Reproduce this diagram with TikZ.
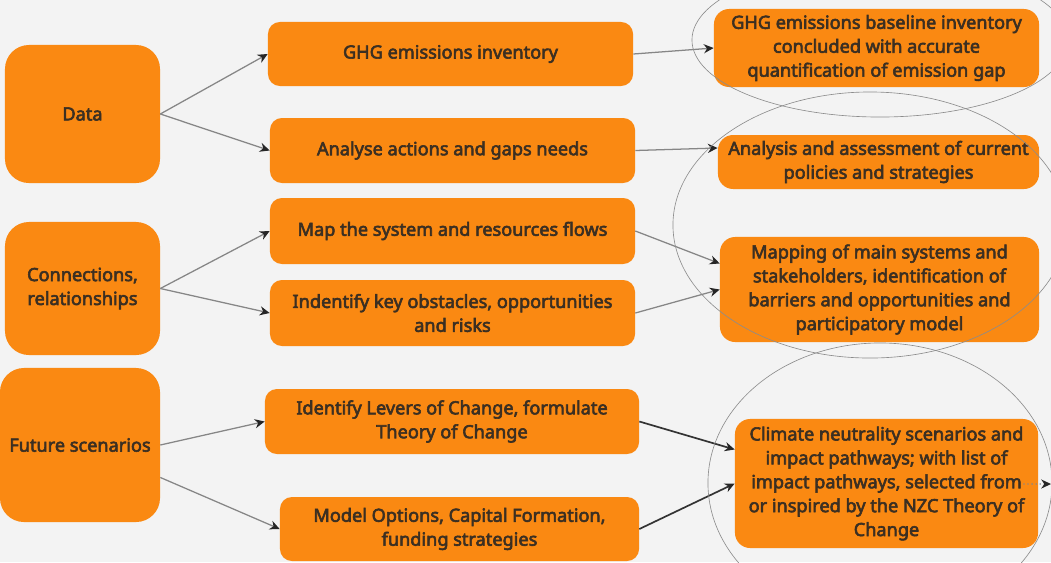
\documentclass[tikz,border=0pt]{standalone}
\usepackage{fontspec}
\setmainfont{Noto Sans}
\newfontfamily\boxfont{Noto Sans}[FakeBold=3.2]
\usepackage{tikz}
\usetikzlibrary{arrows.meta,calc}

\definecolor{bgcol}{HTML}{F3F3F3}
\definecolor{boxorange}{HTML}{FA8912}
\definecolor{txtcol}{HTML}{3B2F22}
\definecolor{linecol}{HTML}{868686}
\definecolor{ringcol}{HTML}{8C8C8C}

\begin{document}
\begin{tikzpicture}[x=0.025cm, y=-0.025cm,
  box/.style={fill=boxorange, text=txtcol, align=center, inner sep=0pt,
    font=\boxfont\fontsize{12.9}{17}\selectfont},
  bigbox/.style={box, rounded corners=0.6cm},
  midbox/.style={box, rounded corners=0.3cm},
  resbox/.style={box, rounded corners=0.38cm},
  flow/.style={draw=linecol, line width=0.9pt,
    -{Stealth[length=7pt,width=6.5pt,color=black!85]}},
  flowdark/.style={flow, draw=black!80, line width=1.2pt},
  ring/.style={draw=ringcol, line width=0.45pt}]

\path [fill=bgcol] (0,0) rectangle (1051,562);
\useasboundingbox (0,0) rectangle (1051,562);

% left column
\node [bigbox, minimum width=3.875cm, minimum height=3.45cm] (data) at (82.5,114) {Data};
\node [bigbox, minimum width=3.875cm, minimum height=3.325cm] (conn) at (82.5,288.5) {Connections,\\relationships};
\node [bigbox, minimum width=4cm, minimum height=3.85cm] (fut) at (80,445) {Future scenarios};

% middle column
\node [midbox, minimum width=9.125cm, minimum height=1.6cm] (ghg) at (450.5,54) {GHG emissions inventory};
\node [midbox, minimum width=9.125cm, minimum height=1.625cm] (ana) at (452.5,150.5) {Analyse actions and gaps needs};
\node [midbox, minimum width=9.125cm, minimum height=1.65cm] (map) at (452.5,231) {Map the system and resources flows};
\node [midbox, minimum width=9.125cm, minimum height=1.65cm] (ind) at (452.5,313) {Indentify key obstacles, opportunities\\and risks};
\node [midbox, minimum width=9.35cm, minimum height=1.625cm] (lev) at (452,421.5) {Identify Levers of Change, formulate\\Theory of Change};
\node [midbox, minimum width=8.975cm, minimum height=1.6cm] (mod) at (459.5,529) {Model Options, Capital Formation,\\funding strategies};

% right column
\node [resbox, minimum width=8.125cm, minimum height=1.95cm] (base) at (876.5,48) {GHG emissions baseline inventory\\concluded with accurate\\quantification of emission gap};
\node [resbox, minimum width=8.025cm, minimum height=1.35cm] (asm) at (878.5,162) {Analysis and assessment of current\\policies and strategies};
\node [resbox, minimum width=7.975cm, minimum height=2.625cm] (mpg) at (879.5,289.5) {Mapping of main systems and\\stakeholders, identification of\\barriers and opportunities and\\participatory model};
\node [resbox, minimum width=7.575cm, minimum height=3.225cm] (clim) at (886.5,483.5) {Climate neutrality scenarios and\\impact pathways; with list of\\impact pathways, selected from\\or inspired by the NZC Theory of\\Change};

% connectors
\draw [flow] (data.east) -- (ghg.west);
\draw [flow] (data.east) -- (ana.west);
\draw [flow] (conn.east) -- (map.west);
\draw [flow] (conn.east) -- (ind.west);
\draw [flow] (fut.east) -- (lev.west);
\draw [flow] (fut.-22) -- (mod.west);

\draw [flow] (ghg.east) -- (base.west);
\draw [flow] (ana.east) -- ($(asm.west)+(0,-14)$);
\draw [flow] (map.east) -- ($(mpg.west)+(0,-26)$);
\draw [flow] (ind.east) -- (mpg.west);
\draw [flowdark] (lev.east) -- ($(clim.west)+(0,-34)$);
\draw [flowdark] (mod.east) -- (clim.west);

\coordinate (next) at (1051,484);
\draw [flow, dotted] ($(clim.east)+(-15,0.5)$) -- (next);

% grouping rings
\draw [ring] (880,40) ellipse [x radius=4.7cm, y radius=1.925cm];
\draw [ring] (870,225) ellipse [x radius=4.925cm, y radius=3.325cm];
\draw [ring] (880,483) ellipse [x radius=4.3cm, y radius=3.5cm];
\end{tikzpicture}
\end{document}
